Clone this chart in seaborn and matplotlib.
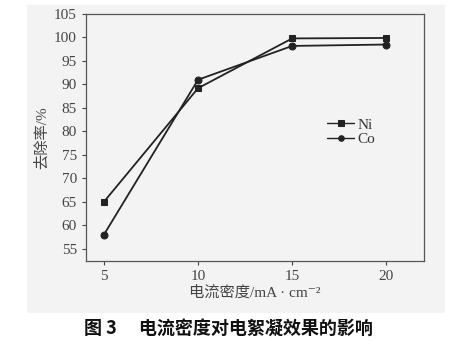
import matplotlib
matplotlib.use("Agg")
import matplotlib.pyplot as plt
import seaborn as sns
import pandas as pd
from matplotlib.patches import Rectangle

current_density = [5, 10, 15, 20]
ni_removal = [65.0, 89.2, 99.8, 99.9]
co_removal = [58.0, 91.0, 98.2, 98.5]
y_ticks = [55, 60, 65, 70, 75, 80, 85, 90, 95, 100, 105]
x_ticks = [5, 10, 15, 20]

df = pd.concat([
    pd.DataFrame({"x": current_density, "y": ni_removal, "metal": "Ni"}),
    pd.DataFrame({"x": current_density, "y": co_removal, "metal": "Co"}),
])

sns.set_style("ticks")
serif = ["Liberation Serif", "Noto Sans CJK SC", "DejaVu Serif"]
cjk = ["Noto Sans CJK SC", "Liberation Serif"]
plt.rcParams["font.family"] = serif

W, H = 457, 352
fig = plt.figure(figsize=(W / 100, H / 100), dpi=100)
fig.patch.set_facecolor("white")
bg = Rectangle((27 / W, 1 - 313 / H), (445 - 27) / W, (313 - 5) / H,
               transform=fig.transFigure, facecolor="#f3f3f3",
               edgecolor="none", zorder=-10)
fig.patches.append(bg)
ax = fig.add_axes([86 / W, 1 - 261 / H, (424 - 86) / W, (261 - 14) / H])
ax.set_zorder(5)
ax.set_facecolor("#f3f3f3")

sns.lineplot(data=df, x="x", y="y", hue="metal", style="metal",
             markers={"Ni": "s", "Co": "o"}, dashes=False,
             palette={"Ni": "#222222", "Co": "#222222"},
             markersize=5, linewidth=1.3, markeredgecolor="#222222",
             ax=ax, legend=True)

ax.set_xlim(4.05, 22.0)
ax.set_ylim(52.4, 105)
ax.set_xticks(x_ticks)
ax.set_yticks(y_ticks)
ax.tick_params(labelsize=11, colors="#444444", length=3, width=0.8, direction="out")
for s in ax.spines.values():
    s.set_color("#555555")
    s.set_linewidth(0.9)

ax.set_xlabel("电流密度/mA · cm⁻²", fontsize=11, color="#444444",
              family=serif, labelpad=2)
ax.set_ylabel("去除率/%", fontsize=11, color="#444444", family=serif, labelpad=4)

leg = ax.legend(loc="upper left", bbox_to_anchor=(0.69, 0.61), frameon=False,
                fontsize=11, handlelength=1.8, handletextpad=0.2,
                labelspacing=0.05, borderpad=0, markerscale=0.8)
for t in leg.get_texts():
    t.set_color("#333333")
for l in leg.get_lines():
    l.set_linewidth(1.0)

fig.text(0.5, 1 - 328 / H, "图 3　 电流密度对电絮凝效果的影响", ha="center", va="center",
         fontsize=13, fontweight="bold", family=cjk, color="#111111")

fig.savefig("out.png", dpi=100)
